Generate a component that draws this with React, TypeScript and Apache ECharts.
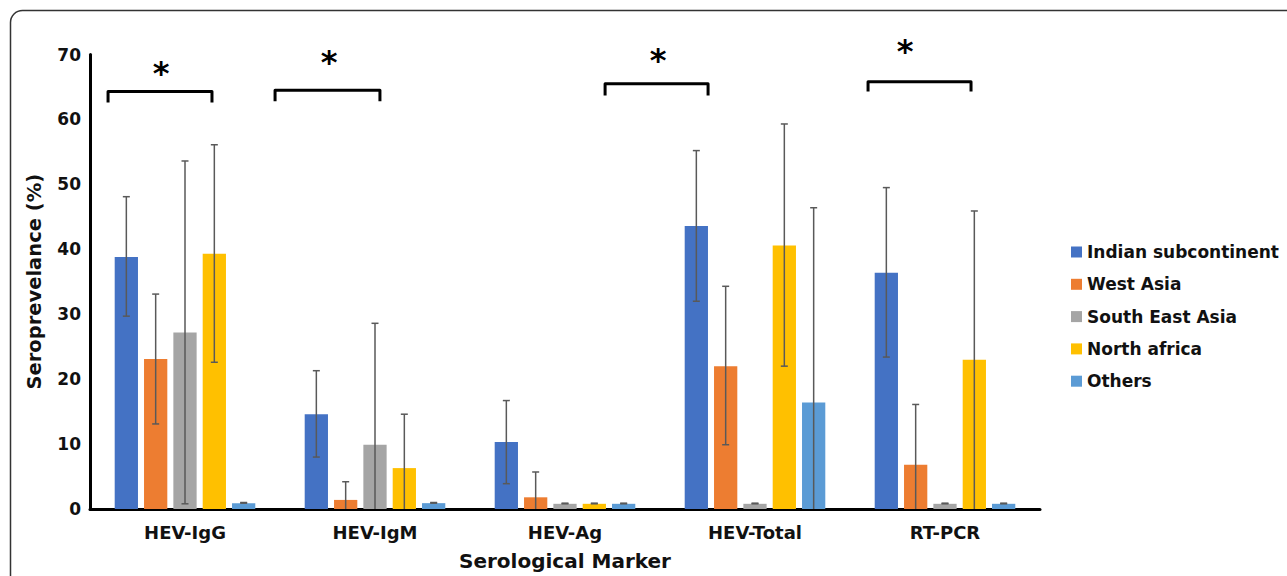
import React, { useEffect, useRef } from "react";
import * as echarts from "echarts";

const markers = ["HEV-IgG", "HEV-IgM", "HEV-Ag", "HEV-Total", "RT-PCR"];
const regions = ["Indian subcontinent", "West Asia", "South East Asia", "North africa", "Others"];
const colors = ["#4472C4", "#ED7D31", "#A5A5A5", "#FFC000", "#5B9BD5"];

// values per region over markers
const indianValues = [38.8, 14.6, 10.3, 43.6, 36.4];
const westAsiaValues = [23.1, 1.4, 1.8, 22.0, 6.8];
const seAsiaValues = [27.2, 9.9, 0.8, 0.8, 0.8];
const nAfricaValues = [39.3, 6.3, 0.8, 40.6, 23.0];
const othersValues = [0.9, 0.9, 0.8, 16.4, 0.8];

// error bar upper ends
const indianHigh = [48.1, 21.3, 16.7, 55.2, 49.5];
const westAsiaHigh = [33.1, 4.2, 5.7, 34.3, 16.1];
const seAsiaHigh = [53.6, 28.6, 0.9, 0.9, 0.9];
const nAfricaHigh = [56.1, 14.6, 0.9, 59.3, 45.9];
const othersHigh = [1.0, 1.0, 0.9, 46.4, 0.9];

// error bar lower ends (0 = clipped at axis)
const indianLow = [29.7, 8.0, 3.9, 32.0, 23.4];
const westAsiaLow = [13.1, 0, 0, 9.9, 0];
const seAsiaLow = [0.8, 0, 0.8, 0.8, 0.8];
const nAfricaLow = [22.6, 0, 0.8, 22.0, 0];
const othersLow = [0.9, 0.9, 0.8, 0, 0.8];

// significance brackets
const bracketCats = [0, 1, 3, 4];
const bracketTop = [64.3, 64.5, 65.5, 65.8];
const bracketLeg = [62.6, 62.8, 63.7, 64.3];
const bracketLeft = [-0.405, -0.526, -0.789, -0.405];
const bracketRight = [0.142, 0.026, -0.247, 0.137];
const starX = [-0.126, -0.242, -0.51, -0.21];
const starY = [67.2, 68.8, 69.1, 70.6];

const allValues = [indianValues, westAsiaValues, seAsiaValues, nAfricaValues, othersValues];
const allHigh = [indianHigh, westAsiaHigh, seAsiaHigh, nAfricaHigh, othersHigh];
const allLow = [indianLow, westAsiaLow, seAsiaLow, nAfricaLow, othersLow];

const FONT = "DejaVu Sans";
const CAT_GAP = 0.26;
const BAR_GAP = 0.26;

export default function App() {
  const ref = useRef<HTMLDivElement>(null);
  useEffect(() => {
    if (!ref.current) return;
    const chart = echarts.init(ref.current, null, { renderer: "svg" });
    const n = regions.length;

    const series: any[] = [];
    regions.forEach((name, i) => {
      series.push({
        name,
        type: "bar",
        data: allValues[i],
        itemStyle: { color: colors[i] },
        barCategoryGap: "26%",
        barGap: "26%",
        z: 2,
      });
    });
    regions.forEach((name, i) => {
      series.push({
        name: "err-" + name,
        type: "custom",
        z: 5,
        silent: true,
        data: markers.map((_, k) => [k, allLow[i][k], allHigh[i][k]]),
        encode: { x: 0, y: [1, 2] },
        renderItem: (params: any, api: any) => {
          const cat = api.value(0);
          const lo = api.value(1);
          const hi = api.value(2);
          const pHi = api.coord([cat, hi]);
          const pLo = api.coord([cat, lo]);
          const band = api.size([1, 0])[0];
          const barW = (band * (1 - CAT_GAP)) / (n + (n - 1) * BAR_GAP);
          const x = pHi[0] + (i - (n - 1) / 2) * barW * (1 + BAR_GAP);
          const st = { stroke: "#595959", lineWidth: 1.5 };
          const children: any[] = [
            { type: "line", shape: { x1: x, y1: pHi[1], x2: x, y2: pLo[1] }, style: st },
            { type: "line", shape: { x1: x - 3.5, y1: pHi[1], x2: x + 3.5, y2: pHi[1] }, style: st },
          ];
          if (lo > 0) {
            children.push({ type: "line", shape: { x1: x - 3.5, y1: pLo[1], x2: x + 3.5, y2: pLo[1] }, style: st });
          }
          return { type: "group", children };
        },
      });
    });
    series.push({
      name: "brackets",
      type: "custom",
      z: 6,
      silent: true,
      clip: false,
      data: bracketCats.map((c, k) => [c, bracketTop[k], bracketLeg[k], bracketLeft[k], bracketRight[k], starX[k], starY[k]]),
      encode: { x: 0, y: 1 },
      renderItem: (params: any, api: any) => {
        const cat = api.value(0);
        const top = api.coord([cat, api.value(1)]);
        const leg = api.coord([cat, api.value(2)]);
        const star = api.coord([cat, api.value(6)]);
        const band = api.size([1, 0])[0];
        const xl = top[0] + api.value(3) * band;
        const xr = top[0] + api.value(4) * band;
        const xs = top[0] + api.value(5) * band;
        return {
          type: "group",
          children: [
            {
              type: "polyline",
              shape: { points: [[xl, leg[1]], [xl, top[1]], [xr, top[1]], [xr, leg[1]]] },
              style: { stroke: "#000", lineWidth: 3, fill: "none", lineJoin: "round" },
            },
            {
              type: "text",
              x: xs,
              y: star[1],
              style: {
                text: "*",
                fontSize: 32,
                fontWeight: "bold",
                fontFamily: FONT,
                fill: "#000",
                align: "center",
                verticalAlign: "middle",
              },
            },
          ],
        };
      },
    });

    chart.setOption({
      animation: false,
      backgroundColor: "#fff",
      textStyle: { fontFamily: FONT },
      graphic: [
        {
          type: "rect",
          silent: true,
          shape: { x: 10.5, y: 10.5, width: 1320, height: 620, r: 12 },
          style: { fill: "none", stroke: "#333", lineWidth: 1.5 },
          z: 0,
        },
      ],
      grid: { left: 90, right: 247, top: 54.5, bottom: 66.5, containLabel: false },
      legend: {
        data: regions,
        orient: "vertical",
        left: 1066,
        top: 237,
        itemWidth: 11,
        itemHeight: 11,
        itemGap: 12.3,
        icon: "rect",
        textStyle: { fontSize: 17, fontWeight: "bold", color: "#111", fontFamily: FONT, lineHeight: 20 },
      },
      xAxis: {
        type: "category",
        data: markers,
        name: "Serological Marker",
        nameLocation: "middle",
        nameGap: 42,
        nameTextStyle: { fontSize: 20, fontWeight: "bold", color: "#111", fontFamily: FONT },
        axisLine: { lineStyle: { color: "#000", width: 3 } },
        axisTick: { show: false },
        axisLabel: { fontSize: 18, fontWeight: "bold", color: "#111", margin: 14, fontFamily: FONT },
      },
      yAxis: {
        type: "value",
        min: 0,
        max: 70,
        interval: 10,
        name: "Seroprevelance (%)",
        nameLocation: "middle",
        nameGap: 46,
        nameTextStyle: { fontSize: 19.5, fontWeight: "bold", color: "#111", fontFamily: FONT },
        axisLine: { show: true, lineStyle: { color: "#000", width: 3 } },
        axisTick: { show: false },
        splitLine: { show: false },
        axisLabel: { fontSize: 17, fontWeight: "bold", color: "#111", margin: 9, fontFamily: FONT },
      },
      series,
    });
    return () => chart.dispose();
  }, []);
  return (
    <div
      ref={ref}
      style={{ position: "fixed", left: 0, top: 0, width: 1287, height: 576, background: "#fff" }}
    />
  );
}
